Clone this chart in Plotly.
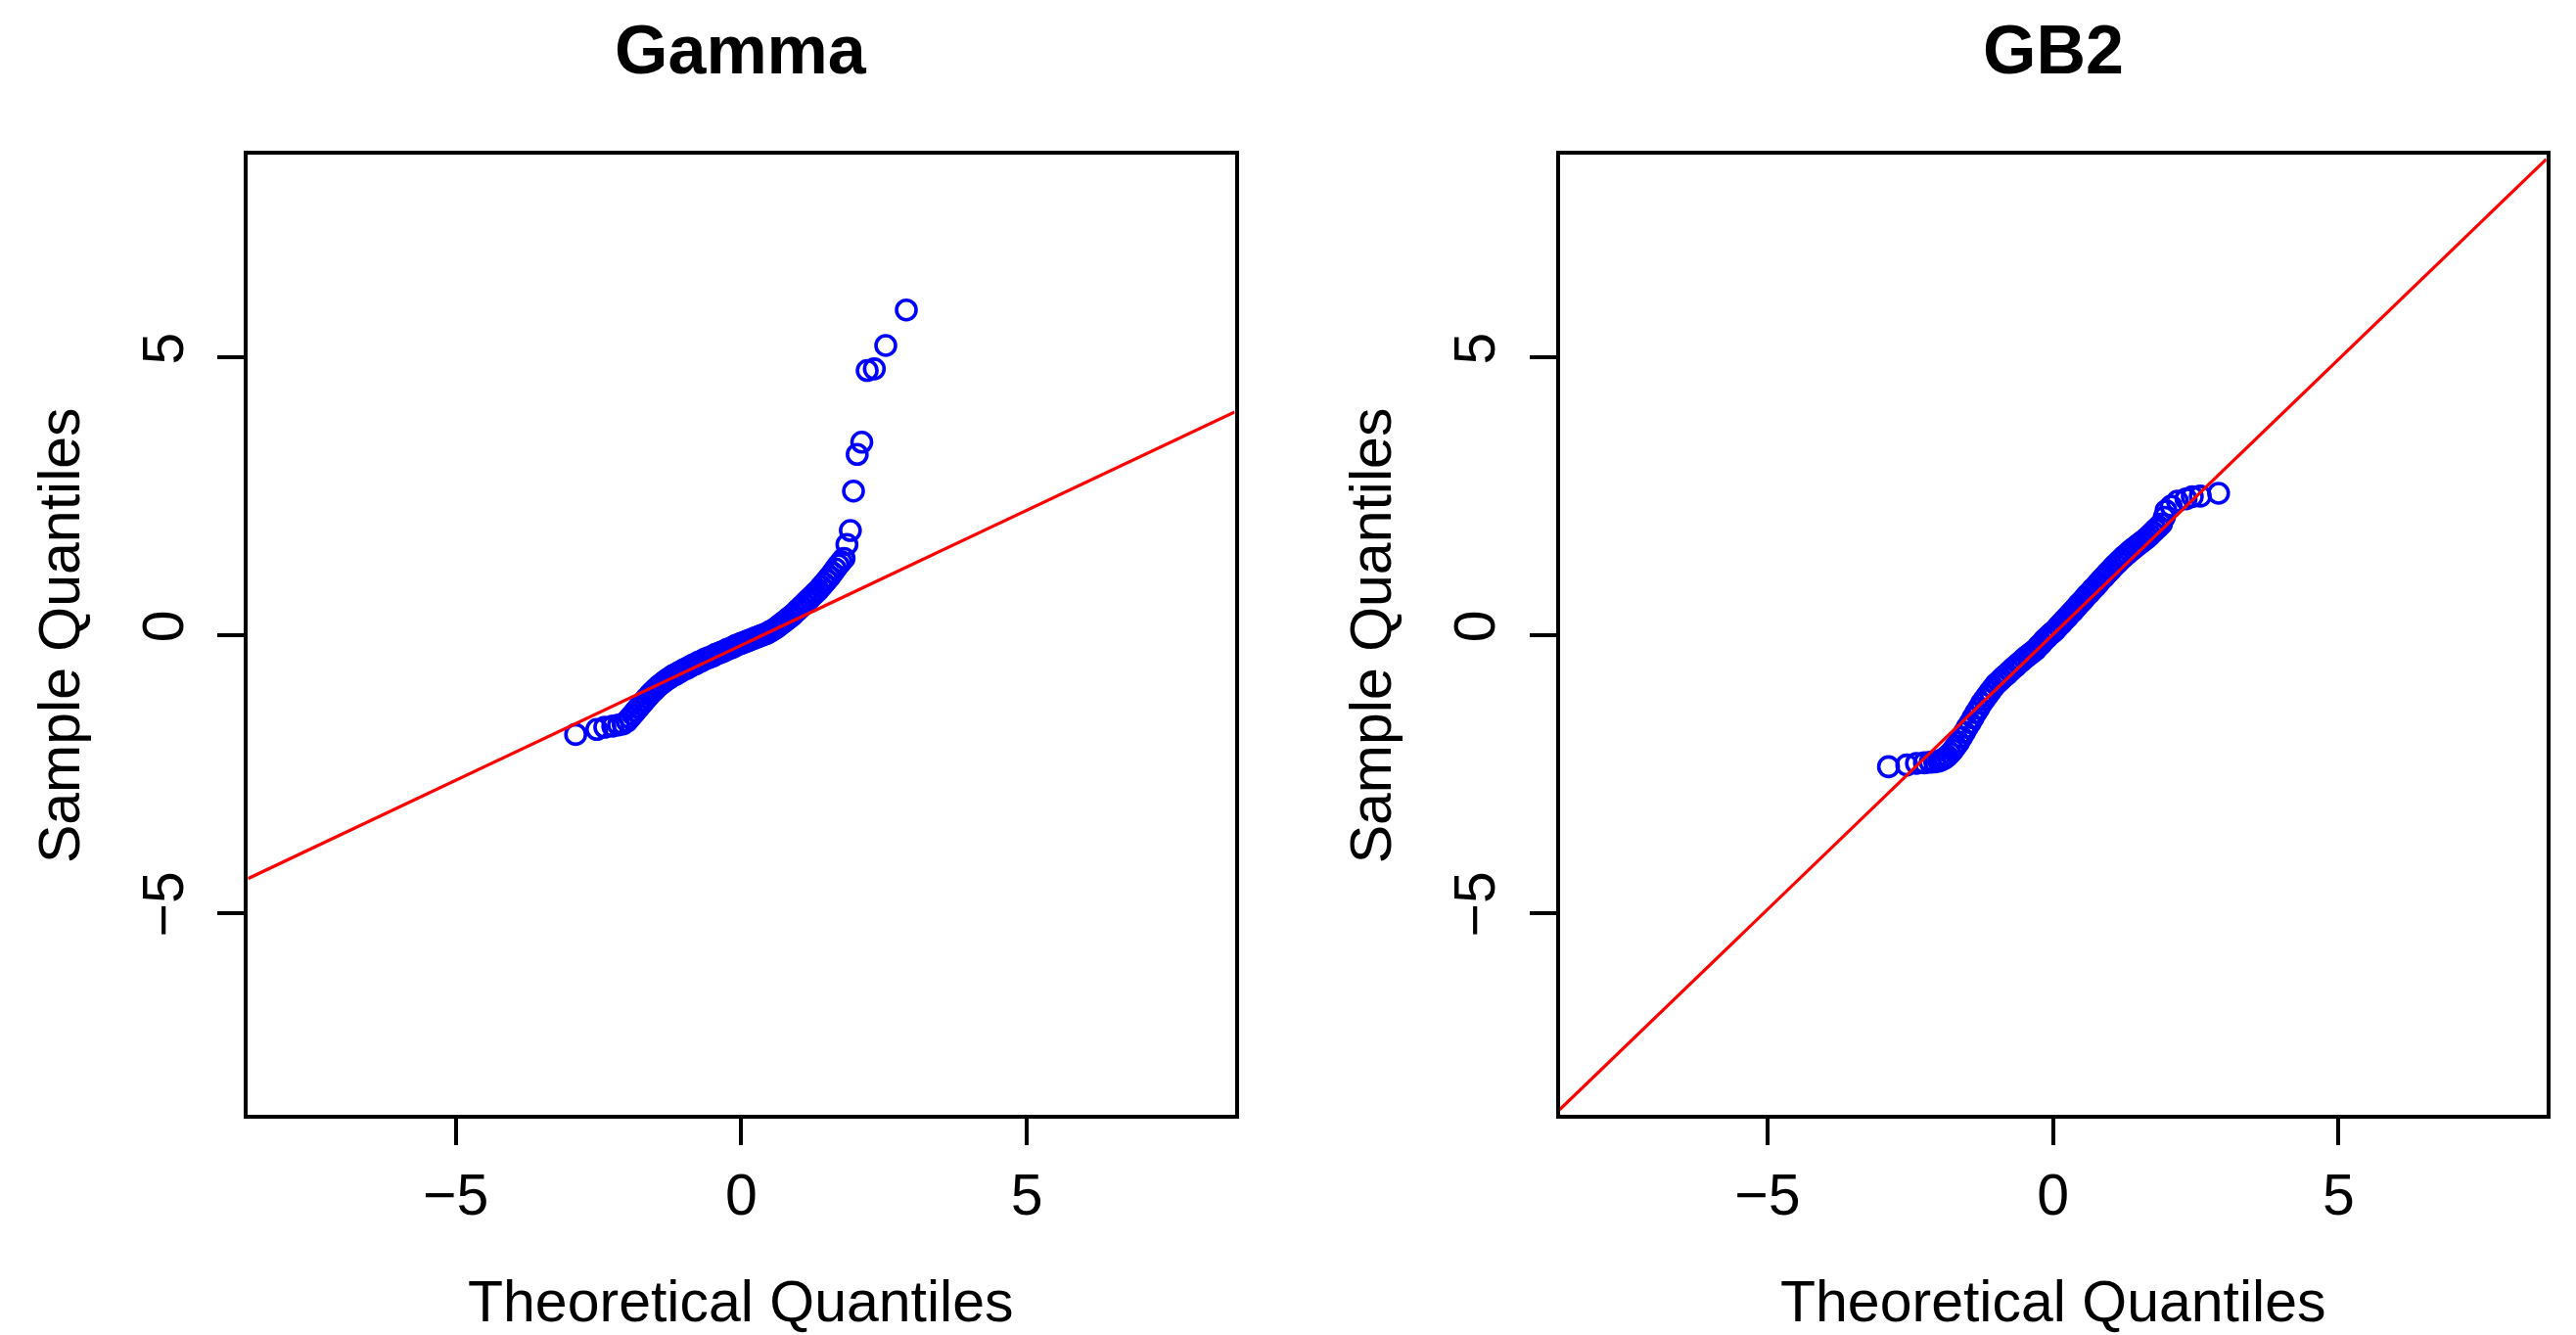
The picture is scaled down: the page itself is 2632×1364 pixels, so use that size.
import plotly.graph_objects as go

# QQ plots: theoretical (x) and sample (y) quantiles
gamma_theo = [-2.90, -2.53, -2.39, -2.25, -2.15, -2.07, -2.00, -1.95, -1.90, -1.85,
              -1.80, -1.75, -1.70, -1.65, -1.60, -1.55, -1.50, -1.45, -1.40, -1.35,
              -1.30, -1.25, -1.20, -1.15, -1.10, -1.05, -1.00, -0.95, -0.90, -0.85,
              -0.80, -0.75, -0.70, -0.65, -0.60, -0.55, -0.50, -0.45, -0.40, -0.35,
              -0.30, -0.25, -0.20, -0.15, -0.10, -0.05, 0.00, 0.05, 0.10, 0.15,
              0.20, 0.25, 0.30, 0.35, 0.40, 0.45, 0.50, 0.55, 0.60, 0.65,
              0.70, 0.75, 0.80, 0.85, 0.90, 0.95, 1.00, 1.05, 1.10, 1.15,
              1.20, 1.25, 1.30, 1.35, 1.40, 1.45, 1.50, 1.55, 1.60, 1.65,
              1.70, 1.75, 1.80, 1.85, 1.91, 1.965, 2.03, 2.11, 2.205, 2.33,
              2.53, 2.89]
gamma_sample = [-1.79, -1.70, -1.66, -1.64, -1.62, -1.60, -1.55, -1.49, -1.43, -1.37,
                -1.31, -1.25, -1.19, -1.13, -1.07, -1.02, -0.97, -0.92, -0.88, -0.84,
                -0.80, -0.77, -0.73, -0.71, -0.68, -0.65, -0.62, -0.60, -0.57, -0.54,
                -0.52, -0.49, -0.47, -0.44, -0.42, -0.40, -0.38, -0.35, -0.33, -0.31,
                -0.29, -0.26, -0.24, -0.22, -0.19, -0.17, -0.15, -0.13, -0.11, -0.09,
                -0.07, -0.05, -0.03, -0.01, 0.01, 0.03, 0.06, 0.09, 0.12, 0.16,
                0.20, 0.24, 0.28, 0.32, 0.36, 0.41, 0.46, 0.51, 0.56, 0.61,
                0.66, 0.71, 0.76, 0.81, 0.87, 0.93, 0.99, 1.05, 1.12, 1.19,
                1.26, 1.32, 1.38, 1.63, 1.88, 2.59, 3.25, 3.47, 4.76, 4.79,
                5.21, 5.85]

gb2_theo = [-2.88, -2.56, -2.39, -2.25, -2.15, -2.07, -2.00, -1.95, -1.90, -1.85,
            -1.80, -1.75, -1.70, -1.65, -1.60, -1.55, -1.50, -1.45, -1.40, -1.35,
            -1.30, -1.25, -1.20, -1.15, -1.10, -1.05, -1.00, -0.95, -0.90, -0.85,
            -0.80, -0.75, -0.70, -0.65, -0.60, -0.55, -0.50, -0.45, -0.40, -0.35,
            -0.30, -0.25, -0.20, -0.15, -0.10, -0.05, 0.00, 0.05, 0.10, 0.15,
            0.20, 0.25, 0.30, 0.35, 0.40, 0.45, 0.50, 0.55, 0.60, 0.65,
            0.70, 0.75, 0.80, 0.85, 0.90, 0.95, 1.00, 1.05, 1.10, 1.15,
            1.20, 1.25, 1.30, 1.35, 1.40, 1.45, 1.50, 1.55, 1.60, 1.65,
            1.70, 1.75, 1.80, 1.85, 1.90, 1.95, 1.98, 2.07, 2.18, 2.33,
            2.44, 2.58, 2.90]
gb2_sample = [-2.37, -2.34, -2.31, -2.30, -2.29, -2.285, -2.27, -2.25, -2.22, -2.18,
              -2.13, -2.07, -2.00, -1.93, -1.84, -1.75, -1.66, -1.58, -1.49, -1.40,
              -1.32, -1.23, -1.16, -1.09, -1.02, -0.95, -0.885, -0.84, -0.79, -0.74,
              -0.70, -0.65, -0.60, -0.56, -0.51, -0.47, -0.42, -0.38, -0.34, -0.30,
              -0.26, -0.20, -0.15, -0.09, -0.04, 0.01, 0.05, 0.10, 0.16, 0.21,
              0.27, 0.32, 0.38, 0.43, 0.49, 0.55, 0.60, 0.66, 0.72, 0.77,
              0.83, 0.88, 0.94, 1.00, 1.05, 1.11, 1.16, 1.22, 1.27, 1.32,
              1.37, 1.42, 1.46, 1.51, 1.55, 1.59, 1.63, 1.67, 1.71, 1.75,
              1.80, 1.85, 1.90, 1.95, 2.00, 2.12, 2.235, 2.32, 2.41, 2.45,
              2.49, 2.50, 2.55]

# qqline: intercept, slope
gamma_fit = [-0.185, 0.486]
gb2_fit = [0.01, 0.99]

panel_titles = ["Gamma", "GB2"]
tick_vals = [-5, 0, 5]
axis_lim = [-8.64, 8.64]

FONT = "Liberation Sans, Arial, Helvetica, sans-serif"
W, H = 2632, 1364

x_domains = [[253.3 / W, 1261.5 / W], [1593.5 / W, 2601.7 / W]]
y_domain = [(H - 1139.3) / H, (H - 158.3) / H]


def axis_style(**extra):
    style = dict(
        range=axis_lim,
        tickvals=tick_vals,
        showgrid=False,
        zeroline=False,
        showline=True,
        linecolor="black",
        linewidth=4,
        mirror=True,
        ticks="outside",
        ticklen=27,
        tickwidth=4,
        tickcolor="black",
        tickfont=dict(family=FONT, size=59, color="black"),
    )
    style.update(extra)
    return style


fig = go.Figure()
panels = [
    (gamma_theo, gamma_sample, gamma_fit),
    (gb2_theo, gb2_sample, gb2_fit),
]
annotations = []
for i, (theo, sample, fit) in enumerate(panels):
    xref = "x" if i == 0 else "x2"
    yref = "y" if i == 0 else "y2"
    fig.add_trace(go.Scatter(
        x=theo, y=sample, mode="markers", xaxis=xref, yaxis=yref,
        marker=dict(symbol="circle-open", size=20, color="#0000FF",
                    line=dict(width=3.6, color="#0000FF")),
        showlegend=False, hoverinfo="skip",
    ))
    fig.add_trace(go.Scatter(
        x=axis_lim, y=[fit[0] + fit[1] * v for v in axis_lim],
        mode="lines", xaxis=xref, yaxis=yref,
        line=dict(color="#FF0000", width=3.2),
        showlegend=False, hoverinfo="skip",
    ))

    xmid = sum(x_domains[i]) / 2
    annotations.append(dict(
        text="<b>%s</b>" % panel_titles[i], xref="paper", yref="paper",
        x=xmid, y=1 - 51 / H, xanchor="center", yanchor="middle",
        showarrow=False, font=dict(family=FONT, size=70, color="black"),
    ))
    annotations.append(dict(
        text="Theoretical Quantiles", xref="paper", yref="paper",
        x=xmid, y=1 - 1330 / H, xanchor="center", yanchor="middle",
        showarrow=False, font=dict(family=FONT, size=59, color="black"),
    ))
    annotations.append(dict(
        text="Sample Quantiles", xref="paper", yref="paper",
        x=x_domains[i][0] - 193 / W, y=sum(y_domain) / 2,
        xanchor="center", yanchor="middle", textangle=-90,
        showarrow=False, font=dict(family=FONT, size=59, color="black"),
    ))

fig.update_layout(
    width=W, height=H,
    margin=dict(l=0, r=0, t=0, b=0),
    plot_bgcolor="white",
    paper_bgcolor="white",
    xaxis=axis_style(domain=x_domains[0], anchor="y"),
    yaxis=axis_style(domain=y_domain, anchor="x", tickangle=-90, ticklabelstandoff=12),
    xaxis2=axis_style(domain=x_domains[1], anchor="y2"),
    yaxis2=axis_style(domain=y_domain, anchor="x2", tickangle=-90, ticklabelstandoff=12),
    annotations=annotations,
)

fig.write_html("out.html", config={"displayModeBar": False},
               post_script="document.body.style.margin='0';")
